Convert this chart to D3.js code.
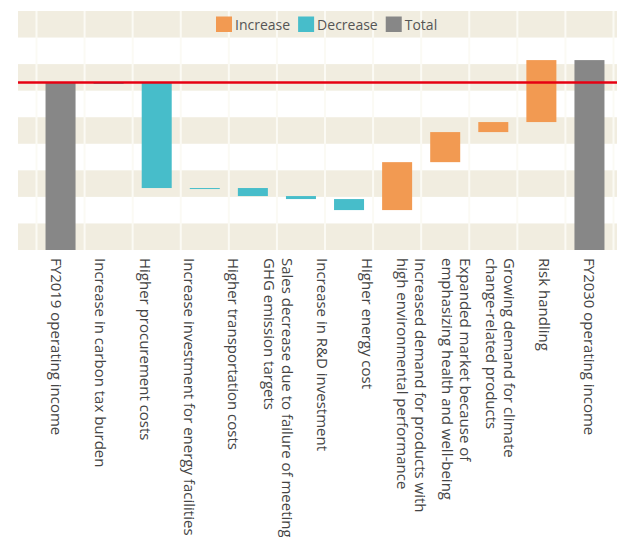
<!DOCTYPE html>
<meta charset="utf-8">
<style>
  body { margin: 0; background: #fff; }
  svg text { font-family: "Open Sans", "Noto Sans", sans-serif; }
  .band { fill: #f1ede0; }
  .colline { stroke: #fbfaf4; stroke-width: 2; }
  .label { font-size: 15px; fill: #444; }
  .legend text { font-size: 14px; fill: #555; }
</style>
<body>
<div id="chart"></div>
<script src="https://d3js.org/d3.v7.min.js"></script>
<script>
var width = 617;
var height = 537;

// axis labels, one per category (line breaks with |)
var labels = [
  'FY2019 operating income',
  'Increase in carbon tax burden',
  'Higher procurement costs',
  'Increase investment for energy facilities',
  'Higher transportation costs',
  'Sales decrease due to failure of meeting|GHG emission targets',
  'Increase in R&D investment',
  'Higher energy cost',
  'Increased demand for products with|high environmental performance',
  'Expanded market because of|emphasizing health and well-being',
  'Growing demand for climate|change-related products',
  'Risk handling',
  'FY2030 operating income'
];
// index FY2019 = 100; null = no bar drawn in the original
var values = [100, 0, -62.9, 0, -4.8, -1.8, -6.6, null, 28.7, 18.0, 6.0, 37.1, 113.7];
var kinds = ['total', 'decrease', 'decrease', 'decrease', 'decrease', 'decrease', 'decrease',
  'decrease', 'increase', 'increase', 'increase', 'increase', 'total'];

var legendNames = ['Increase', 'Decrease', 'Total'];
var legendKinds = ['increase', 'decrease', 'total'];
var baseline = 100;

var color = d3.scaleOrdinal()
    .domain(['increase', 'decrease', 'total'])
    .range(['#f29a52', '#47bdca', '#878787']);

var plot = { left: 18, right: 617, top: 11, bottom: 250 };

var svg = d3.select('#chart').append('svg')
    .attr('width', width)
    .attr('height', height);

// build waterfall steps
var running = 0;
var steps = [];
labels.forEach(function (name, i) {
  var v = values[i];
  if (v === null) return;
  var s;
  if (kinds[i] === 'total') {
    s = { name: name, kind: kinds[i], y0: 0, y1: v };
    running = v;
  } else {
    s = { name: name, kind: kinds[i], y0: running, y1: running + v };
    running += v;
  }
  steps.push(s);
});

var y = d3.scaleLinear()
    .domain([0, 143.1])
    .range([plot.bottom, plot.top]);

var x = d3.scaleBand()
    .domain(steps.map(function (d) { return d.name; }))
    .range([36.5, 613.5])
    .paddingInner(0.376)
    .paddingOuter(0.188);

var lx = d3.scalePoint()
    .domain(labels)
    .range([56, 589]);

// background bands
var nb = 9;
var bandEdges = d3.range(nb + 1).map(function (i) { return plot.top + i * (plot.bottom - plot.top) / nb; });
svg.append('g')
  .selectAll('rect')
  .data(d3.range(0, nb, 2))
  .enter().append('rect')
    .attr('class', 'band')
    .attr('x', plot.left)
    .attr('width', plot.right - plot.left)
    .attr('y', function (i) { return bandEdges[i]; })
    .attr('height', function (i) { return bandEdges[i + 1] - bandEdges[i]; });

// column separators
var gap = (x.step() - x.bandwidth()) / 2;
var colX = steps.map(function (d) { return x(d.name) - gap; });
colX.push(x(steps[steps.length - 1].name) + x.bandwidth() + gap);
svg.append('g')
  .selectAll('line')
  .data(colX)
  .enter().append('line')
    .attr('class', 'colline')
    .attr('x1', function (d) { return d; })
    .attr('x2', function (d) { return d; })
    .attr('y1', plot.top)
    .attr('y2', plot.bottom);

// bars
svg.append('g')
  .selectAll('rect')
  .data(steps)
  .enter().append('rect')
    .attr('x', function (d) { return x(d.name); })
    .attr('width', x.bandwidth())
    .attr('y', function (d) { return y(Math.max(d.y0, d.y1)); })
    .attr('height', function (d) { return Math.max(1, Math.abs(y(d.y0) - y(d.y1))); })
    .attr('fill', function (d) { return color(d.kind); });

// FY2019 reference line
svg.append('line')
    .attr('x1', plot.left)
    .attr('x2', plot.right)
    .attr('y1', y(baseline) - 0.5)
    .attr('y2', y(baseline) - 0.5)
    .attr('stroke', '#e60012')
    .attr('stroke-width', 2.5);

// rotated category labels
var lab = svg.append('g')
  .selectAll('text')
  .data(labels)
  .enter().append('text')
    .attr('class', 'label')
    .attr('transform', function (d) { return 'translate(' + lx(d) + ',258) rotate(90)'; });

lab.each(function (d) {
  var lines = d.split('|');
  var t = d3.select(this);
  var off = -(lines.length - 1) * 9;
  lines.forEach(function (line, i) {
    t.append('tspan')
      .attr('x', 0)
      .attr('y', off + i * 18)
      .attr('dy', '0.35em')
      .text(line);
  });
});

// legend
var legend = svg.append('g').attr('class', 'legend');
var lxPos = 216;
legendNames.forEach(function (name, i) {
  legend.append('rect')
    .attr('x', lxPos)
    .attr('y', 16.5)
    .attr('width', 16)
    .attr('height', 15.5)
    .attr('fill', color(legendKinds[i]));
  var t = legend.append('text')
    .attr('x', lxPos + 19)
    .attr('y', 30)
    .text(name);
  lxPos += 19 + t.node().getComputedTextLength() + 8;
});
</script>
</body>
